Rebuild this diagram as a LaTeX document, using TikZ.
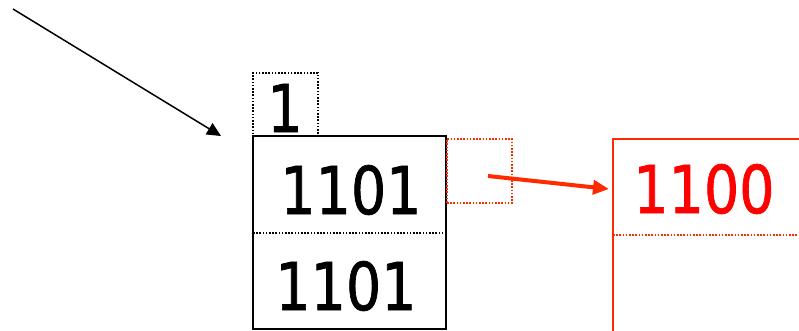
\documentclass[tikz,border=0pt]{standalone}
\usepackage{fontspec}
\setmainfont{DejaVu Sans}
\newfontfamily\digfont[FakeBold=1.2]{DejaVu Sans}
\usetikzlibrary{arrows.meta}
\definecolor{redline}{HTML}{FF2A00}
\definecolor{redtext}{HTML}{FF0000}
\tikzset{
  dig/.style={inner sep=0pt, font=\digfont\fontsize{66}{70}\selectfont},
  dotline/.style={line width=1.6pt, dash pattern=on 1.6pt off 1.6pt},
  boxline/.style={line width=2pt},
}
\newcommand{\dg}[1]{\scalebox{0.84}[1]{#1}}
\begin{document}
\begin{tikzpicture}[x=1pt,y=-1pt]
\useasboundingbox (0,0) rectangle (799,330);
% dotted box with 1
\node[draw, dotline, minimum width=65pt, minimum height=63pt, inner sep=0pt] (onebox) at (285.5,104.5) {};
\node[dig] (one) at (285,108) {\dg{1}};
% main box
\draw[boxline] (253,330) -- (253,136) coordinate (mtl) -- (446,136) -- (446,330);
\draw[boxline] (253,329) -- (446,329);
\coordinate (main) at (349.5,232.5);
\draw[dotline] (253,233) -- (446,233);
\node[dig] (t1) at (351,190) {\dg{1101}};
\node[dig] (t2) at (346,286) {\dg{1101}};
% black arrow
\coordinate (bstart) at (13,9);
\coordinate (bend) at (221,136);
\draw[line width=1.5pt, -{Triangle[length=14pt,width=13pt]}] (bstart) -- (bend);
% small red dotted box
\node[draw=redline, dotline, minimum width=65pt, minimum height=64pt, inner sep=0pt] (redsmall) at (479.5,171) {};
% red box
\draw[redline, line width=2pt] (613,331) -- (613,139) coordinate (rtl) -- (800,139);
\draw[redline, dotline] (613,235) -- (800,235);
\node[dig, text=redtext] (t3) at (704,189) {\dg{1100}};
% red arrow
\coordinate (rstart) at (488,176);
\coordinate (rend) at (609,189);
\draw[redline, line width=4pt, -{Triangle[length=16pt,width=14pt]}] (rstart) -- (rend);
\end{tikzpicture}
\end{document}
